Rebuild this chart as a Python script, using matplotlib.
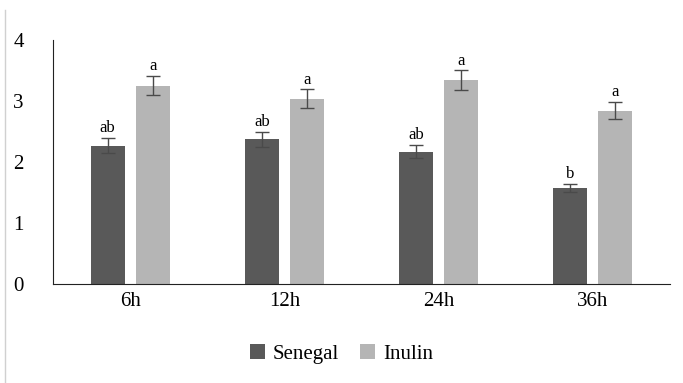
import matplotlib.pyplot as plt
import numpy as np
from matplotlib.lines import Line2D

plt.rcParams['font.family'] = ['Liberation Serif', 'DejaVu Serif']

times = ['6h', '12h', '24h', '36h']
senegal = [2.27, 2.37, 2.17, 1.57]
senegal_err = [0.12, 0.12, 0.11, 0.07]
inulin = [3.25, 3.04, 3.34, 2.84]
inulin_err = [0.16, 0.15, 0.16, 0.14]
senegal_letters = ['ab', 'ab', 'ab', 'b']
inulin_letters = ['a', 'a', 'a', 'a']

dark = '#595959'
light = '#b5b5b5'

fig = plt.figure(figsize=(6.83, 3.83), dpi=100)
ax = fig.add_axes([0.0776, 0.2585, 0.9034, 0.6371])

x = np.arange(len(times))
w = 0.22
off = 0.146
err_kw = dict(ecolor='#4a4a4a', elinewidth=1.0, capsize=5, capthick=1.0)
ax.bar(x - off, senegal, w, yerr=senegal_err, color=dark, label='Senegal', error_kw=err_kw)
ax.bar(x + off, inulin, w, yerr=inulin_err, color=light, label='Inulin', error_kw=err_kw)

for i in range(len(times)):
    ax.text(x[i] - off, senegal[i] + senegal_err[i] + 0.03, senegal_letters[i],
            ha='center', va='bottom', fontsize=12)
    ax.text(x[i] + off, inulin[i] + inulin_err[i] + 0.03, inulin_letters[i],
            ha='center', va='bottom', fontsize=12)

ax.set_xlim(-0.5, 3.5)
ax.set_ylim(0, 4)
ax.set_yticks([0, 1, 2, 3, 4])
ax.set_xticks(x)
ax.set_xticklabels(times)
ax.tick_params(axis='both', length=0, labelsize=15)
ax.tick_params(axis='y', pad=21)
ax.tick_params(axis='x', pad=6)
for s in ['top', 'right']:
    ax.spines[s].set_visible(False)
ax.spines['left'].set_color('#222222')
ax.spines['bottom'].set_color('#222222')

fig.legend(loc='center', bbox_to_anchor=(0.5, 0.075), ncol=2, frameon=False,
           fontsize=15, handlelength=0.7, handleheight=0.7, handletextpad=0.4,
           columnspacing=1.0)

# faint border line at left of the image
fig.add_artist(Line2D([0.008, 0.008], [0.0, 0.975], color='#d0d0d0', lw=1,
                      transform=fig.transFigure))

fig.savefig('out.png', dpi=100)
